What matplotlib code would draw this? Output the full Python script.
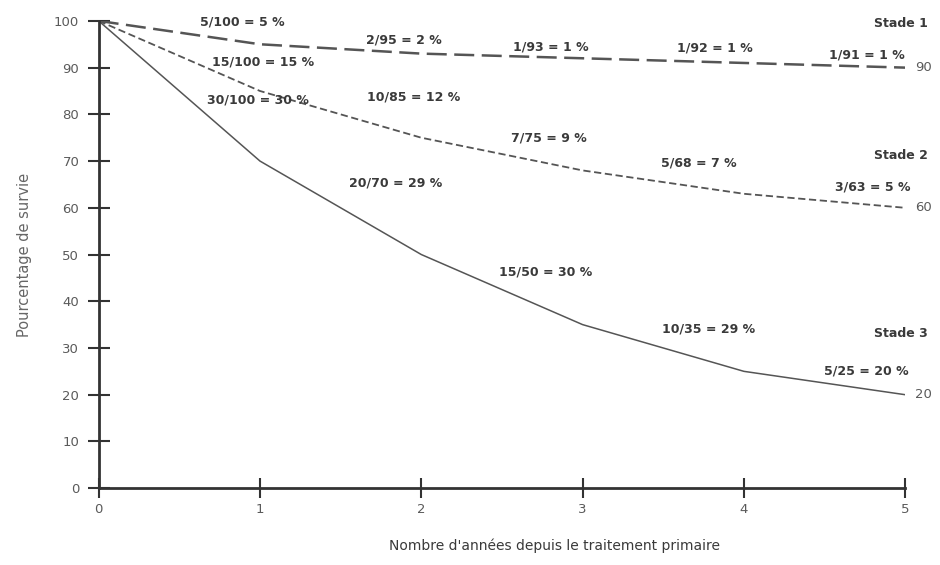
import matplotlib
matplotlib.use("Agg")
from matplotlib import pyplot as plt

# years since primary treatment
years = [0, 1, 2, 3, 4, 5]

# survival percentage per stage
stade1 = [100, 95, 93, 92, 91, 90]
stade2 = [100, 85, 75, 68, 63, 60]
stade3 = [100, 70, 50, 35, 25, 20]

# annual death labels
labels1 = ["5/100 = 5 %", "2/95 = 2 %", "1/93 = 1 %", "1/92 = 1 %", "1/91 = 1 %"]
labels2 = ["15/100 = 15 %", "10/85 = 12 %", "7/75 = 9 %", "5/68 = 7 %", "3/63 = 5 %"]
labels3 = ["30/100 = 30 %", "20/70 = 29 %", "15/50 = 30 %", "10/35 = 29 %", "5/25 = 20 %"]

# label positions
pos1 = [(0.89, 99.8), (1.89, 95.9), (2.80, 94.4), (3.82, 94.2), (4.76, 92.7)]
pos2 = [(1.02, 91.2), (1.95, 83.7), (2.79, 74.9), (3.72, 69.6), (4.80, 64.5)]
pos3 = [(0.99, 83.1), (1.84, 65.3), (2.77, 46.3), (3.78, 34.0), (4.76, 25.1)]

plt.rcParams['font.family'] = ['DejaVu Sans']
txt = '#3a3a3a'
light = '#5a5a5a'
line = '#555555'

fig = plt.figure(figsize=(9.4, 5.65), dpi=100)
ax = fig.add_axes([0.105, 0.136, 0.858, 0.827])

ax.plot(years, stade1, color=line, lw=1.8, ls=(0, (8, 3)))
ax.plot(years, stade2, color=line, lw=1.3, ls=(0, (4, 2)))
ax.plot(years, stade3, color=line, lw=1.1)

for labs, pos in [(labels1, pos1), (labels2, pos2), (labels3, pos3)]:
    for s, (x, y) in zip(labs, pos):
        ax.text(x, y, s, ha='center', va='center', fontsize=9,
                fontweight='bold', color=txt, clip_on=False)

# stage names and end values
for name, y in [("Stade 1", 99.4), ("Stade 2", 71.1), ("Stade 3", 33.0)]:
    ax.text(5.14, y, name, ha='right', va='center', fontsize=9,
            fontweight='bold', color=txt, clip_on=False)
for series in [stade1, stade2, stade3]:
    ax.text(5.06, series[-1], str(series[-1]), ha='left', va='center',
            fontsize=9.5, color=light, clip_on=False)

ax.set_xlim(0, 5)
ax.set_ylim(0, 100)
ax.set_xticks(years)
ax.set_yticks(range(0, 101, 10))
for side in ['top', 'right']:
    ax.spines[side].set_visible(False)
for side in ['left', 'bottom']:
    ax.spines[side].set_color('#333333')
    ax.spines[side].set_linewidth(2)
ax.tick_params(axis='y', direction='inout', length=16, width=1.5,
               colors='#333333', labelcolor=light, labelsize=9.5, pad=6)
ax.tick_params(axis='x', direction='inout', length=14, width=1.5,
               colors='#333333', labelcolor=light, labelsize=9.5, pad=4)

ax.set_ylabel("Pourcentage de survie", fontsize=10.5, color='#666666')
ax.yaxis.set_label_coords(-0.083, 0.5)
ax.set_xlabel("Nombre d'années depuis le traitement primaire", fontsize=10,
              color=txt)
ax.xaxis.set_label_coords(0.565, -0.108)

fig.savefig("out.png", dpi=100)
